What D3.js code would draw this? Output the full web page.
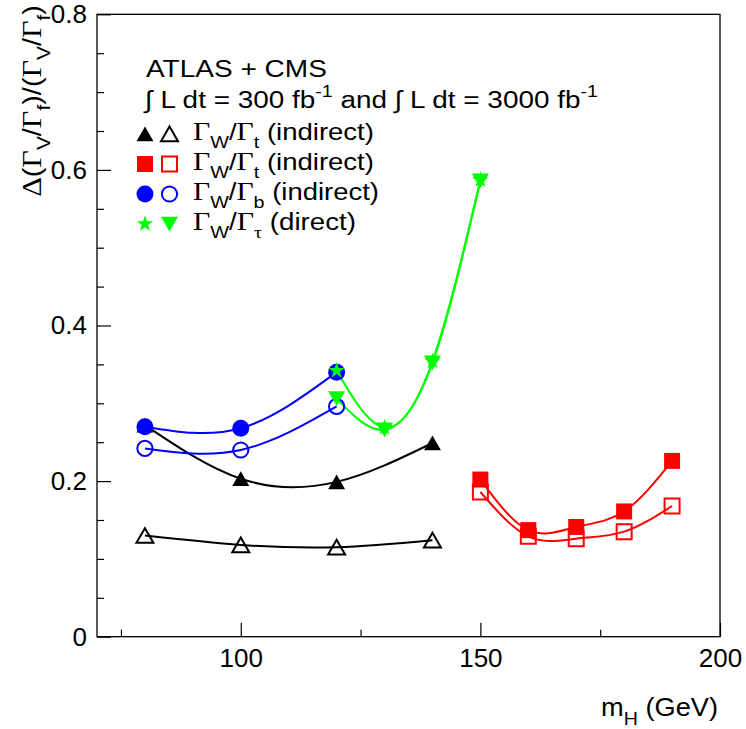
<!DOCTYPE html>
<html><head><meta charset="utf-8">
<script src="https://cdn.jsdelivr.net/npm/d3@7"></script>
<style>body{margin:0;background:#fff} svg{display:block} text{white-space:pre}</style>
</head><body><svg id="c" width="746" height="729"></svg>
<script>
// ---------- data ----------
const massTop = [80, 100, 120, 140];
const topFilled = [0.272, 0.203, 0.199, 0.249];
const topOpen = [0.130, 0.118, 0.115, 0.124];
const massTopHigh = [150, 160, 170, 180, 190];
const topHighFilled = [0.202, 0.137, 0.141, 0.161, 0.226];
const topHighOpen = [0.186, 0.129, 0.126, 0.135, 0.168];
const massB = [80, 100, 120];
const bFilled = [0.270, 0.268, 0.340];
const bOpen = [0.242, 0.240, 0.296];
const massTau = [120, 130, 140, 150];
const tauStar = [0.342, 0.269, 0.354, 0.587];
const tauTri = [0.306, 0.266, 0.352, 0.586];
const xMajorTicks = [100, 150, 200];
const xMinorTicks = [75, 125, 175];
const yMajorTicks = [0, 0.2, 0.4, 0.6, 0.8];
const yMinorTicks = [0.05, 0.1, 0.15, 0.25, 0.3, 0.35, 0.45, 0.5, 0.55, 0.65, 0.7, 0.75];
const xDomain = [70, 200];
const yDomain = [0, 0.8];

// ---------- layout ----------
const L = 97, R = 720, T = 14.3, B = 636.7;
const sans = "'Liberation Sans', Arial, sans-serif";
const serif = "'Liberation Serif', 'Times New Roman', serif";
const svg = d3.select('#c');
const x = d3.scaleLinear().domain(xDomain).range([L, R]);
const y = d3.scaleLinear().domain(yDomain).range([B, T]);

const RED = '#ff0000', BLUE = '#0000ff', GREEN = '#00ff00', BLACK = '#000000';

// ---------- markers ----------
function markerPath(kind) {
  switch (kind) {
    case 'triUp': case 'triUpOpen': return d3.symbol(d3.symbolTriangle, 125)();
    case 'triDown': return d3.symbol(d3.symbolTriangle, 125)();
    case 'square': return d3.symbol(d3.symbolSquare, 256)();
    case 'squareOpen': return d3.symbol(d3.symbolSquare, 225)();
    case 'circle': return d3.symbol(d3.symbolCircle, Math.PI * 8.5 * 8.5)();
    case 'circleOpen': return d3.symbol(d3.symbolCircle, Math.PI * 7.6 * 7.6)();
    case 'star': return d3.symbol(d3.symbolStar, 85)();
  }
}
function markerTransform(kind, px, py) {
  if (kind === 'triUp' || kind === 'triUpOpen') return `translate(${px},${py + 2.4})`;
  if (kind === 'triDown') return `translate(${px},${py - 2.4}) rotate(180)`;
  return `translate(${px},${py})`;
}
function drawMarker(g, kind, color, px, py) {
  const open = kind.endsWith('Open');
  g.append('path').attr('d', markerPath(kind))
    .attr('transform', markerTransform(kind, px, py))
    .attr('fill', open ? 'none' : color)
    .attr('stroke', open ? color : 'none')
    .attr('stroke-width', open ? 2 : 0);
}

// ---------- series ----------
const series = [
  { xs: massTop, ys: topFilled, color: BLACK, marker: 'triUp' },
  { xs: massTop, ys: topOpen, color: BLACK, marker: 'triUpOpen' },
  { xs: massTopHigh, ys: topHighOpen, color: RED, marker: 'squareOpen' },
  { xs: massTopHigh, ys: topHighFilled, color: RED, marker: 'square' },
  { xs: massB, ys: bFilled, color: BLUE, marker: 'circle' },
  { xs: massB, ys: bOpen, color: BLUE, marker: 'circleOpen' },
  { xs: massTau, ys: tauTri, color: GREEN, marker: 'triDown' },
  { xs: massTau, ys: tauStar, color: GREEN, marker: 'star' },
];

// frame
svg.append('rect').attr('x', L).attr('y', T).attr('width', R - L).attr('height', B - T)
  .attr('fill', 'none').attr('stroke', '#000').attr('stroke-width', 1.3);

// axes (ROOT style, ticks inward)
function styleAxis(g) {
  g.select('.domain').remove();
  g.selectAll('line').attr('stroke', '#000').attr('stroke-width', 1.2);
  g.selectAll('text').attr('font-family', sans).attr('font-size', 26).attr('fill', '#000');
}
svg.append('g').attr('transform', `translate(0,${B})`)
  .call(d3.axisBottom(x).tickValues(xMajorTicks).tickSize(-14).tickSizeOuter(0).tickPadding(12).tickFormat(d3.format('d')))
  .call(styleAxis);
svg.append('g').attr('transform', `translate(0,${B})`)
  .call(d3.axisBottom(x).tickValues(xMinorTicks).tickSize(-7).tickSizeOuter(0).tickFormat(''))
  .call(styleAxis);
svg.append('g').attr('transform', `translate(${L},0)`)
  .call(d3.axisLeft(y).tickValues(yMajorTicks).tickSize(-14).tickSizeOuter(0).tickPadding(10).tickFormat(d => d === 0 ? '0' : d3.format('.1f')(d)))
  .call(styleAxis);
svg.append('g').attr('transform', `translate(${L},0)`)
  .call(d3.axisLeft(y).tickValues(yMinorTicks).tickSize(-7).tickSizeOuter(0).tickFormat(''))
  .call(styleAxis);

// curves + markers
const line = d3.line().curve(d3.curveNatural).x(d => x(d[0])).y(d => y(d[1]));
const plot = svg.append('g');
series.forEach(s => {
  const pts = s.xs.map((v, i) => [v, s.ys[i]]);
  plot.append('path').attr('d', line(pts)).attr('fill', 'none')
    .attr('stroke', s.color).attr('stroke-width', 2);
});
series.forEach(s => {
  s.xs.forEach((v, i) => drawMarker(plot, s.marker, s.color, x(v), y(s.ys[i])));
});

// ---------- rich text helper ----------
function rich(parent, px, py, parts, fs, opt = {}) {
  const g = parent.append('g').attr('transform', `translate(${px},${py})` + (opt.rotate ? ' rotate(-90)' : ''));
  const t = g.append('text').attr('font-size', fs).attr('font-family', sans)
    .attr('text-anchor', opt.anchor || 'start').attr('fill', '#000');
  let cur = 0;
  const gs = opt.greekScale || 1;
  parts.forEach(([str, kind]) => {
    let off = 0, size = fs, fam = sans;
    if (kind.includes('sub')) { off = 0.36 * fs; size = 0.72 * fs; }
    if (kind.includes('sup')) { off = -0.45 * fs; size = 0.7 * fs; }
    if (kind.includes('g')) { fam = serif; if (!kind.includes('sub')) size = fs * gs; }
    t.append('tspan').attr('dy', off - cur).attr('font-size', size).attr('font-family', fam).text(str);
    cur = off;
  });
  if (opt.width) {
    const w = t.node().getComputedTextLength();
    t.attr('transform', `scale(${opt.width / w},1)`);
  }
  return t;
}

// axis titles
rich(svg, 41, 5, [['Δ', 'g'], ['(', 'n'], ['Γ', 'g'], ['V', 'sub'], ['/', 'n'], ['Γ', 'g'], ['f', 'sub'],
  [')/(', 'n'], ['Γ', 'g'], ['V', 'sub'], ['/', 'n'], ['Γ', 'g'], ['f', 'sub'], [')', 'n']],
  25, { rotate: true, anchor: 'end', width: 192, greekScale: 1.05 });
rich(svg, 718, 716, [['m', 'n'], ['H', 'sub'], [' (GeV)', 'n']], 25, { anchor: 'end', width: 117 });

// legend header
rich(svg, 146, 76.5, [['ATLAS + CMS', 'n']], 24.5, { width: 181 });
rich(svg, 145, 108, [['∫ L dt = 300 fb', 'n'], ['-1', 'sup'], [' and ∫ L dt = 3000 fb', 'n'], ['-1', 'sup']], 24.5, { width: 453 });

// legend rows
const legendRows = [
  { filled: 'triUp', open: 'triUpOpen', color: BLACK, sub2: ['t', 'sub'], tail: ' (indirect)', w: 181 },
  { filled: 'square', open: 'squareOpen', color: RED, sub2: ['t', 'sub'], tail: ' (indirect)', w: 181 },
  { filled: 'circle', open: 'circleOpen', color: BLUE, sub2: ['b', 'sub'], tail: ' (indirect)', w: 186 },
  { filled: 'star', open: 'triDown', color: GREEN, sub2: ['τ', 'gsub'], tail: ' (direct)', w: 163 },
];
const leg = svg.append('g');
legendRows.forEach((r, i) => {
  const base = 139.5 + i * 30;
  const cy = base - 5.5;
  drawMarker(leg, r.filled, r.color, 145, cy);
  drawMarker(leg, r.open, r.color, 169.5, cy);
  rich(leg, 193, base, [['Γ', 'g'], ['W', 'sub'], ['/', 'n'], ['Γ', 'g'], r.sub2, [r.tail, 'n']], 24, { width: r.w, greekScale: 1.08 });
});
</script></body></html>
